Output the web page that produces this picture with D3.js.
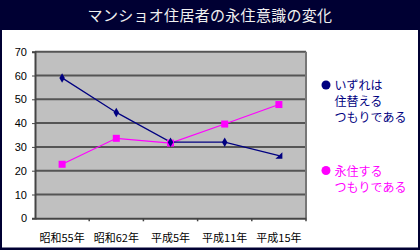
<!DOCTYPE html>
<html><head><meta charset="utf-8">
<script src="https://cdn.jsdelivr.net/npm/d3@7/dist/d3.min.js"></script>
<style>html,body{margin:0;padding:0;background:#fff;}svg{display:block;}</style>
</head><body>
<script>
const title = "マンショオ住居者の永住意識の変化";
const categories = ["昭和55年", "昭和62年", "平成5年", "平成11年", "平成15年"];
const seriesNames = [["いずれは", "住替える", "つもりである"], ["永住する", "つもりである"]];
const replaceValues = [59, 44.5, 32, 32, 26.3];
const permanentValues = [22.7, 33.6, 31.6, 39.6, 47.8];
const yTicks = [0, 10, 20, 30, 40, 50, 60, 70];

const W = 420, H = 250;
const svg = d3.select("body").append("svg").attr("width", W).attr("height", H);
const font = "'Noto Sans CJK JP', sans-serif";
const legendFont = "'Liberation Sans', 'Noto Sans CJK JP', sans-serif";

svg.append("rect").attr("x", 0).attr("y", 0).attr("width", W).attr("height", H).attr("fill", "#000033");
svg.append("rect").attr("x", 2).attr("y", 30).attr("width", W - 4).attr("height", H - 32.5).attr("fill", "#fff");
svg.append("text").attr("x", 210).attr("y", 20.5).attr("text-anchor", "middle")
  .attr("font-family", font).attr("font-size", 15).attr("fill", "#f0f0f0").attr("letter-spacing", 0.3).text(title);

const pL = 35, pR = 306, pT = 51.7, pB = 218.3;
const x = d3.scaleBand().domain(categories).range([pL, pR]);
const y = d3.scaleLinear().domain([0, 70]).range([pB, pT]);

svg.append("rect").attr("x", pL).attr("y", pT).attr("width", pR - pL).attr("height", pB - pT).attr("fill", "#c0c0c0");
svg.append("g").selectAll("line").data(yTicks.slice(1)).join("line")
  .attr("x1", pL).attr("x2", pR).attr("y1", d => y(d)).attr("y2", d => y(d))
  .attr("stroke", "#555").attr("stroke-width", 2);
svg.append("line").attr("x1", pR).attr("x2", pR).attr("y1", pT).attr("y2", pB).attr("stroke", "#777").attr("stroke-width", 2);

const yAxis = d3.axisLeft(y).tickValues(yTicks).tickSize(3).tickPadding(5);
const gy = svg.append("g").attr("transform", `translate(${pL},0)`).call(yAxis);
gy.select(".domain").attr("stroke", "#444").attr("stroke-width", 2);
gy.selectAll(".tick line").attr("stroke", "#444");
gy.selectAll("text").attr("font-family", "Arial, 'Liberation Sans', sans-serif").attr("font-size", 11).attr("fill", "#000");

const xAxis = d3.axisBottom(x).tickSize(0).tickPadding(16);
const gx = svg.append("g").attr("transform", `translate(0,${pB})`).call(xAxis);
gx.select(".domain").attr("stroke", "#444").attr("stroke-width", 2);
gx.selectAll("text").attr("font-family", font).attr("font-size", 11).attr("fill", "#000");
svg.append("g").selectAll("line").data(categories.slice(1).concat(["end"])).join("line")
  .attr("x1", d => d === "end" ? pR : x(d)).attr("x2", d => d === "end" ? pR : x(d))
  .attr("y1", pB).attr("y2", pB + 3).attr("stroke", "#444").attr("stroke-width", 1.5);

const cx = d => x(d) + x.bandwidth() / 2;
const line = d3.line().x(d => cx(d[0])).y(d => y(d[1]));

const pts1 = categories.map((c, i) => [c, replaceValues[i]]);
const pts2 = categories.map((c, i) => [c, permanentValues[i]]);

svg.append("path").datum(pts2).attr("d", line).attr("fill", "none").attr("stroke", "#ff00ff").attr("stroke-width", 1.2);
svg.append("path").datum(pts1).attr("d", line).attr("fill", "none").attr("stroke", "#000080").attr("stroke-width", 1.2);

svg.append("g").selectAll("rect").data(pts2).join("rect")
  .attr("x", d => cx(d[0]) - 3.5).attr("y", d => y(d[1]) - 3.5).attr("width", 7).attr("height", 7).attr("fill", "#ff00ff");
svg.append("g").selectAll("path").data(pts1).join("path")
  .attr("transform", d => `translate(${cx(d[0])},${y(d[1])})`)
  .attr("d", (d, i) => i === pts1.length - 1 ? "M-3.5,3 L3.5,3 L3.5,-3.5 Z" : d3.symbol(d3.symbolDiamond, 26)())
  .attr("fill", "#000080");

const legend = [
  {color: "#000080", lines: seriesNames[0], y: 85.5, cy: 85},
  {color: "#ff00ff", lines: seriesNames[1], y: 171.5, cy: 170.5}
];
legend.forEach(l => {
  svg.append("circle").attr("cx", 326).attr("cy", l.cy).attr("r", 4.5).attr("fill", l.color);
  const t = svg.append("text").attr("font-family", legendFont).attr("font-size", 12).attr("fill", l.color);
  t.selectAll("tspan").data(l.lines).join("tspan")
    .attr("x", 334.5).attr("y", (d, i) => l.y + i * 16.1).attr("dy", "0.36em").text(d => d);
});
</script>
</body></html>
